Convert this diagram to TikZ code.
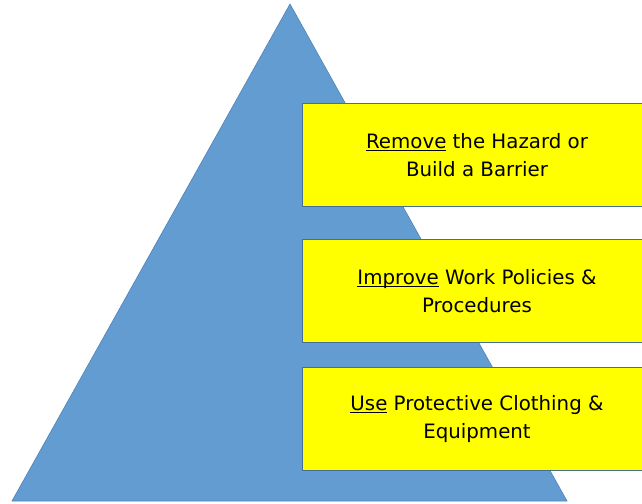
\documentclass[tikz,border=0pt]{standalone}
\usepackage{fontspec}
\setmainfont{DejaVu Sans}
\definecolor{pyramidblue}{RGB}{98,156,208}
\definecolor{pyramidedge}{RGB}{80,130,185}
\definecolor{boxedge}{RGB}{70,110,150}
\definecolor{boxyellow}{RGB}{255,255,0}
\newcommand\keyword[1]{\setbox0\hbox{#1}\rlap{\rule[-3pt]{\wd0}{1.3pt}}\box0\relax}
\tikzset{
  levelbox/.style={draw=boxedge, line width=0.8pt, fill=boxyellow, minimum width=350pt,
    minimum height=103pt, inner sep=0pt, align=center,
    font=\fontsize{19.8}{28}\selectfont, text=black}
}
\begin{document}
\begin{tikzpicture}[x=1pt,y=-1pt]
                \useasboundingbox (0,0) rectangle (642,503);
                \clip (0,0) rectangle (642,503);
                \coordinate (T) at (290,4);
                \coordinate (L) at (12,501);
                \coordinate (R) at (567,501);
                \draw[fill=pyramidblue, draw=pyramidedge, line width=0.6pt] (L) -- (T) -- (R) -- cycle;
                \node[levelbox] (remove) at (477,155) {\keyword{Remove} the Hazard or\\Build a Barrier};
                \node[levelbox] (improve) at (477,291) {\keyword{Improve} Work Policies \&\\Procedures};
                \node[levelbox] (use) at (477,419) {\keyword{Use} Protective Clothing \&\\Equipment};
            \end{tikzpicture}
\end{document}
